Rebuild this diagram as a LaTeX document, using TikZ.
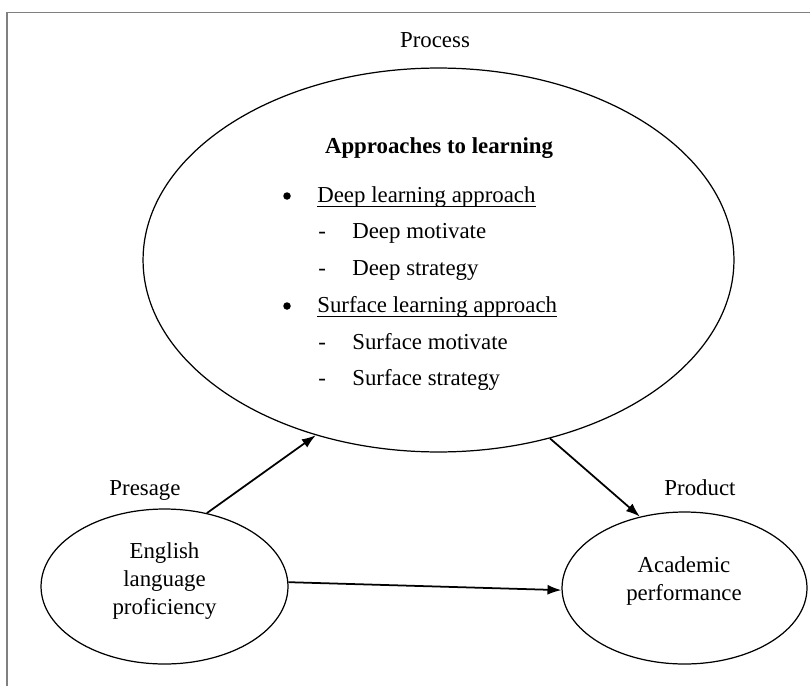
\documentclass[tikz,border=0pt]{standalone}
\usepackage{fontspec}
\setmainfont{Liberation Serif}
\usetikzlibrary{shapes.geometric, arrows.meta}

\newcommand{\ulword}[1]{\underline{\smash{#1}\rule[-1pt]{0pt}{1pt}}}

\begin{document}
\begin{tikzpicture}[x=0.02cm, y=-0.02cm,
        txt/.style={inner sep=0pt, font=\fontsize{13}{15.9}\selectfont},
        blob/.style={draw, ellipse, line width=0.7pt, inner sep=0pt},
        dot/.style={circle, fill, inner sep=0pt, minimum size=0.15cm},
        link/.style={line width=1pt, -{Latex[length=2.8mm, width=2mm]}}]
        \useasboundingbox (0,0) rectangle (810,686);

        % Frame (left and top edges only)
        \draw[gray, line width=0.6pt] (7,686) -- (7,12.5) -- (810,12.5);

        % Three stages
        \node[blob, minimum width=11.82cm, minimum height=7.68cm] (proc) at (438.5,260) {};
        \node[blob, minimum width=4.94cm, minimum height=3.10cm] (pres) at (164.5,586.5) {};
        \node[blob, minimum width=4.90cm, minimum height=3.04cm] (prod) at (684.5,588) {};

        % Stage titles
        \node[txt, anchor=base] (proclbl) at (435,48) {Process};
        \node[txt, anchor=base] (preslbl) at (145,495) {Presage};
        \node[txt, anchor=base] (prodlbl) at (700,495) {Product};

        % Process: approaches to learning
        \node[txt, anchor=base] (appr) at (439,153) {\textbf{Approaches to learning}};
        \node[dot] (bul1) at (287,196) {};
        \node[txt, anchor=base west] (deep) at (317,202) {\ulword{Deep learning approach}};
        \node[txt, anchor=base west] (dash1) at (318,238) {-};
        \node[txt, anchor=base west] (dmot) at (352,238) {Deep motivate};
        \node[txt, anchor=base west] (dash2) at (318,275) {-};
        \node[txt, anchor=base west] (dstr) at (352,275) {Deep strategy};
        \node[dot] (bul2) at (287,306) {};
        \node[txt, anchor=base west] (surf) at (317,312) {\ulword{Surface learning approach}};
        \node[txt, anchor=base west] (dash3) at (318,349) {-};
        \node[txt, anchor=base west] (smot) at (352,349) {Surface motivate};
        \node[txt, anchor=base west] (dash4) at (318,385) {-};
        \node[txt, anchor=base west] (sstr) at (352,385) {Surface strategy};

        % Presage and product contents
        \node[txt, align=center] (eng) at (164.5,581) {English\\language\\proficiency};
        \node[txt, align=center] (acad) at (684,581) {Academic\\performance};

        % Links
        \draw[link] (pres.60) -- (proc.235);
        \draw[link] (proc.302.7) -- (prod.122.3);
        \draw[link] (pres.2) -- (prod.181);
    \end{tikzpicture}
\end{document}
